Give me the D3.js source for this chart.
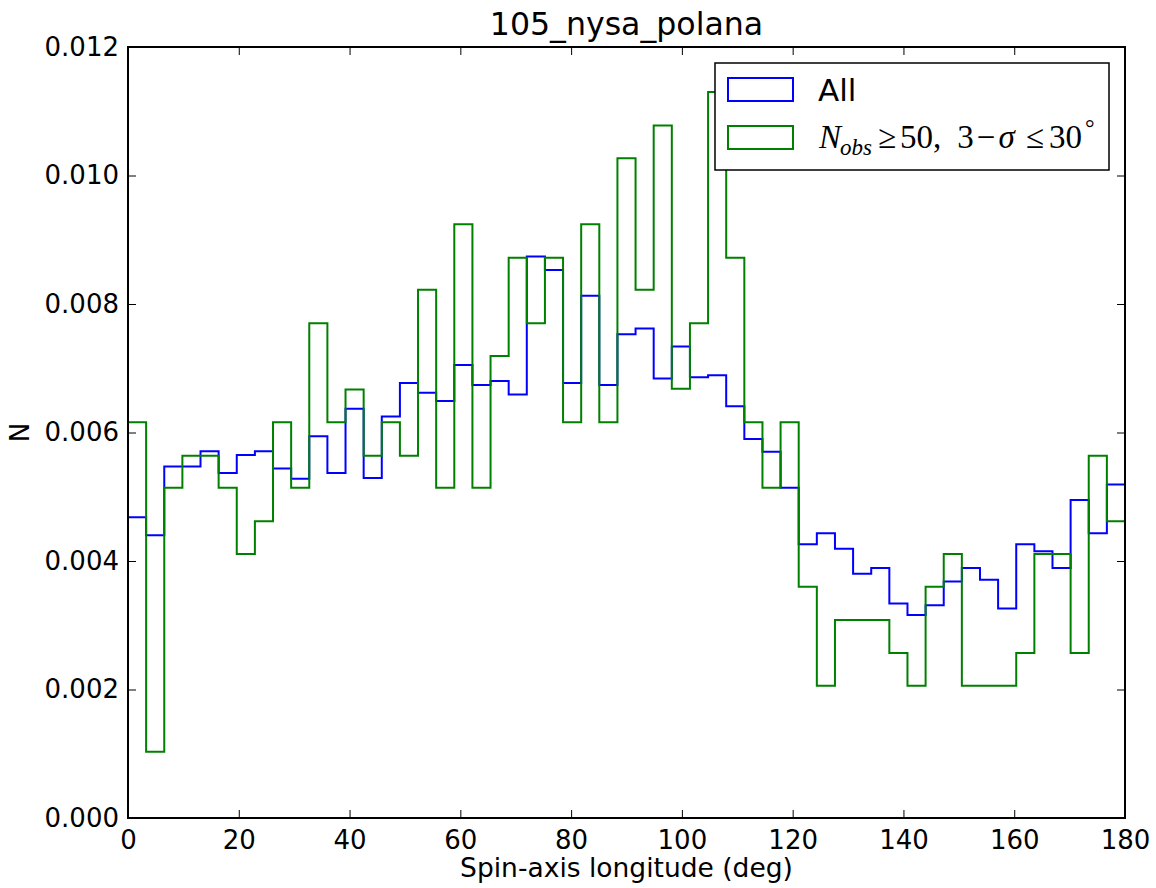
<!doctype html>
<html lang=en>
<head>
  <meta charset="utf-8">
  <title>105_nysa_polana</title>
  <style>
body {
  margin: 0;
  background: white;
}
text {
  font-family: "DejaVu Sans", sans-serif;
}
.math {
  font-family: "Liberation Serif", "DejaVu Serif", serif;
}
  </style>
</head>
<body>
<div id=content></div>

<script src="https://cdn.jsdelivr.net/npm/d3@7"></script>
<script>

  // histogram: 55 bins between 0 and 180 deg
  var binCount = 55,
      xMin = 0,
      xMax = 180;

  // normalised counts per bin
  var allValues = [
    0.00468, 0.00440, 0.00547, 0.00547, 0.00571, 0.00537, 0.00565, 0.00571, 0.00544, 0.00528,
    0.00594, 0.00537, 0.00637, 0.00529, 0.00625, 0.00677, 0.00662, 0.00649, 0.00705, 0.00674,
    0.00680, 0.00659, 0.00874, 0.00853, 0.00677, 0.00813, 0.00674, 0.00753, 0.00762, 0.00684,
    0.00734, 0.00686, 0.00689, 0.00641, 0.00590, 0.00570, 0.00514, 0.00426, 0.00443, 0.00419,
    0.00380, 0.00389, 0.00334, 0.00316, 0.00331, 0.00368, 0.00389, 0.00371, 0.00326, 0.00426,
    0.00415, 0.00389, 0.00495, 0.00443, 0.00519
  ];

  var selValues = [
    0.00616, 0.00103, 0.00514, 0.00564, 0.00564, 0.00514, 0.00411, 0.00462, 0.00616, 0.00514,
    0.00770, 0.00616, 0.00667, 0.00564, 0.00616, 0.00564, 0.00822, 0.00514, 0.00924, 0.00514,
    0.00719, 0.00872, 0.00770, 0.00872, 0.00616, 0.00924, 0.00616, 0.01027, 0.00822, 0.01078,
    0.00668, 0.00770, 0.01130, 0.00872, 0.00616, 0.00514, 0.00616, 0.00360, 0.00206, 0.00308,
    0.00308, 0.00308, 0.00257, 0.00206, 0.00360, 0.00411, 0.00206, 0.00206, 0.00206, 0.00257,
    0.00411, 0.00411, 0.00257, 0.00564, 0.00462
  ];

  var xTicks = [0, 20, 40, 60, 80, 100, 120, 140, 160, 180];
  var yTicks = [0, 0.002, 0.004, 0.006, 0.008, 0.010, 0.012];

  var titleText = "105_nysa_polana",
      xLabelText = "Spin-axis longitude (deg)",
      yLabelText = "N";

  var series = [
    {name: "All", values: allValues, color: "#0000ff"},
    {name: "sel", values: selValues, color: "#008000"}
  ];

  // margins            t, r, b, l
  var m = [47, 31, 70, 128],
      W = 1156, H = 888,
      w = W - m[1] - m[3],
      h = H - m[0] - m[2];

  var svg = d3.select("#content").append("svg")
      .attr("width", W)
      .attr("height", H);

  var plt = svg.append("g")
      .attr("transform", "translate(" + m[3] + "," + m[0] + ")");

  plt.append("rect")
      .attr("width", w)
      .attr("height", h)
      .attr("fill", "white");

  var x = d3.scaleLinear().domain([xMin, xMax]).range([0, w]);
  var y = d3.scaleLinear().domain([0, 0.012]).range([h, 0]);

  var edges = d3.range(binCount + 1).map(i => xMin + i * (xMax - xMin) / binCount);

  // outline of a step histogram
  function stepPoints(vals) {
    var pts = [[edges[0], 0]];
    vals.forEach(function(v, i) {
      pts.push([edges[i], v]);
      pts.push([edges[i + 1], v]);
    });
    pts.push([edges[binCount], 0]);
    return pts;
  }

  var line = d3.line()
      .x(d => x(d[0]))
      .y(d => y(d[1]));

  var lines = plt.append("g");
  series.forEach(function(s) {
    lines.append("path")
        .attr("d", line(stepPoints(s.values)))
        .attr("fill", "none")
        .attr("stroke", s.color)
        .attr("stroke-width", 2)
        .attr("stroke-linejoin", "miter");
  });

  // axes, ticks pointing inwards on all four sides
  var tickLen = 8;
  var xaxisB = d3.axisBottom(x).tickValues(xTicks).tickSizeInner(-tickLen).tickSizeOuter(0).tickPadding(12);
  var xaxisT = d3.axisTop(x).tickValues(xTicks).tickSizeInner(-tickLen).tickSizeOuter(0).tickFormat("");
  var yaxisL = d3.axisLeft(y).tickValues(yTicks).tickSizeInner(-tickLen).tickSizeOuter(0).tickPadding(9).tickFormat(d3.format(".3f"));
  var yaxisR = d3.axisRight(y).tickValues(yTicks).tickSizeInner(-tickLen).tickSizeOuter(0).tickFormat("");

  var gx = plt.append("g").attr("transform", "translate(0," + h + ")").call(xaxisB);
  var gxt = plt.append("g").call(xaxisT);
  var gy = plt.append("g").call(yaxisL);
  var gyr = plt.append("g").attr("transform", "translate(" + w + ",0)").call(yaxisR);

  [gx, gxt, gy, gyr].forEach(function(g) {
    g.select(".domain").remove();
    g.selectAll(".tick line").attr("stroke", "black").attr("stroke-width", 1);
    g.selectAll(".tick text")
        .attr("fill", "black")
        .style("font-family", "DejaVu Sans")
        .style("font-size", "26px");
  });
  gx.selectAll(".tick text").attr("dy", "0.72em");

  plt.append("rect")
      .attr("width", w)
      .attr("height", h)
      .attr("fill", "none")
      .attr("stroke", "black")
      .attr("stroke-width", 2);

  // title and labels
  svg.append("text")
      .attr("x", m[3] + w / 2)
      .attr("y", 35)
      .attr("text-anchor", "middle")
      .style("font-size", "31.6px")
      .text(titleText);

  svg.append("text")
      .attr("x", m[3] + w / 2)
      .attr("y", 877)
      .attr("text-anchor", "middle")
      .style("font-size", "26.5px")
      .text(xLabelText);

  svg.append("text")
      .attr("transform", "translate(29," + (m[0] + h / 2) + ") rotate(-90)")
      .attr("text-anchor", "middle")
      .style("font-size", "26px")
      .text(yLabelText);

  // legend, anchored to the upper right corner
  var lgW = 394, lgH = 107;
  var lg = plt.append("g").attr("transform", "translate(" + (w - lgW - 16) + ",16)");
  lg.append("rect")
      .attr("width", lgW)
      .attr("height", lgH)
      .attr("fill", "white")
      .attr("stroke", "black")
      .attr("stroke-width", 1.5);

  series.forEach(function(s, i) {
    lg.append("rect")
        .attr("x", 13)
        .attr("y", 15 + i * 48)
        .attr("width", 65)
        .attr("height", 23)
        .attr("fill", "none")
        .attr("stroke", s.color)
        .attr("stroke-width", 2);
  });

  lg.append("text")
      .attr("x", 103)
      .attr("y", 38)
      .style("font-size", "31px")
      .text(series[0].name);

  // N_obs >= 50, 3-sigma <= 30 deg
  var mt = lg.append("text")
      .attr("class", "math")
      .attr("x", 104)
      .attr("y", 85)
      .style("font-size", "33px");
  mt.append("tspan").style("font-style", "italic").text("N");
  mt.append("tspan").style("font-style", "italic").style("font-size", "23px").attr("dy", 7).attr("dx", -1).text("obs");
  mt.append("tspan").attr("dy", -7).attr("dx", 6).text("\u2265");
  mt.append("tspan").attr("dx", 4).text("50,");
  mt.append("tspan").attr("dx", 16).text("3");
  mt.append("tspan").attr("dx", 3).text("\u2212");
  mt.append("tspan").style("font-style", "italic").attr("dx", 3).text("\u03c3");
  mt.append("tspan").attr("dx", 11).text("\u2264");
  mt.append("tspan").attr("dx", 5).text("30");
  mt.append("tspan").style("font-size", "24px").attr("dy", -12).attr("dx", 3).text("\u00b0");

</script>
</body>
</html>
